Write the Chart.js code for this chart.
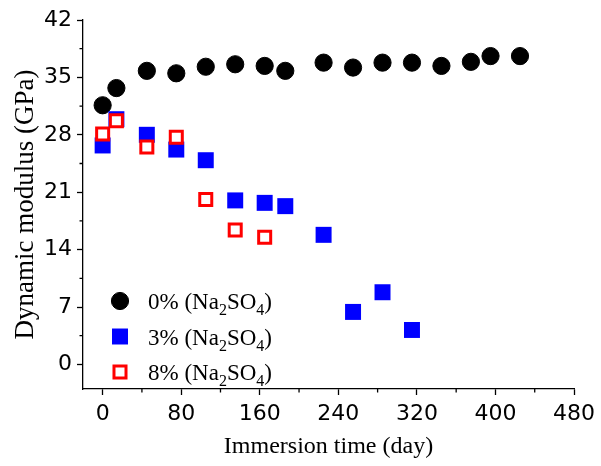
<!DOCTYPE html>
<html>
<head>
<meta charset="utf-8">
<title>Dynamic modulus</title>
<script src="https://cdn.jsdelivr.net/npm/chart.js@4.4.0/dist/chart.umd.min.js"></script>
<style>
    html, body { margin: 0; padding: 0; background: #fff; }
    #wrap { width: 601px; height: 466px; position: relative; }
</style>
</head>
<body>
<div id="wrap"><canvas id="modulusChart"></canvas></div>
<script>
// Immersion time (day) and dynamic modulus (GPa) for each Na2SO4 concentration
const days0 = [0, 14, 45, 75, 105, 135, 165, 186, 225, 255, 285, 315, 345, 375, 395, 425];
const modulus0 = [31.6, 33.7, 35.8, 35.5, 36.3, 36.6, 36.4, 35.8, 36.8, 36.2, 36.8, 36.8, 36.4, 36.9, 37.6, 37.6];

const days3 = [0, 14, 45, 75, 105, 135, 165, 186, 225, 255, 285, 315];
const modulus3 = [26.7, 29.9, 28.0, 26.2, 24.9, 20.0, 19.7, 19.3, 15.8, 6.4, 8.8, 4.2];

const days8 = [0, 14, 45, 75, 105, 135, 165];
const modulus8 = [28.1, 29.7, 26.5, 27.7, 20.1, 16.4, 15.5];

const seriesLabels = ['0%', '3%', '8%'];
const xTicks = [0, 80, 160, 240, 320, 400, 480];
const yTicks = [0, 7, 14, 21, 28, 35, 42];

const SERIF = '"Liberation Serif", "Times New Roman", serif';
const SANS = '"DejaVu Sans", Arial, sans-serif';

function toPoints(xs, ys) {
    return xs.map((x, i) => ({ x: x, y: ys[i] }));
}

// minor ticks halfway between the labelled ones
const minorTicks = {
    id: 'minorTicks',
    afterDraw(chart) {
        const { ctx, scales: { x, y } } = chart;
        ctx.save();
        ctx.strokeStyle = '#000';
        ctx.lineWidth = 1.3;
        ctx.beginPath();
        for (let i = 0; i < xTicks.length - 1; i++) {
            const px = x.getPixelForValue((xTicks[i] + xTicks[i + 1]) / 2);
            ctx.moveTo(px, y.bottom);
            ctx.lineTo(px, y.bottom + 3.5);
        }
        for (let i = 0; i < yTicks.length - 1; i++) {
            const py = y.getPixelForValue((yTicks[i] + yTicks[i + 1]) / 2);
            ctx.moveTo(x.left, py);
            ctx.lineTo(x.left - 3.5, py);
        }
        ctx.stroke();
        ctx.restore();
    }
};

// legend with chemical subscripts, lower-left inside the plot
const chemLegend = {
    id: 'chemLegend',
    afterDraw(chart) {
        const { ctx, chartArea } = chart;
        const x0 = chartArea.left + 37;
        const rowGap = 35.5;
        const firstRow = chartArea.bottom - 88;
        ctx.save();
        chart.data.datasets.forEach((ds, i) => {
            const cy = firstRow + i * rowGap;
            ctx.fillStyle = ds.pointBackgroundColor;
            ctx.strokeStyle = ds.pointBorderColor;
            ctx.lineWidth = ds.pointBorderWidth;
            ctx.beginPath();
            if (ds.pointStyle === 'circle') {
                ctx.arc(x0, cy, ds.pointRadius, 0, Math.PI * 2);
            } else {
                const h = Math.SQRT1_2 * ds.pointRadius;
                ctx.rect(x0 - h, cy - h, 2 * h, 2 * h);
            }
            ctx.fill();
            if (ds.pointBorderWidth > 0) ctx.stroke();

            // "x% (Na2SO4)" with lowered digits
            const parts = [[ds.label + ' (Na', false], ['2', true], ['SO', false], ['4', true], [')', false]];
            let tx = x0 + 28;
            const base = cy + 8;
            ctx.fillStyle = '#000';
            ctx.textBaseline = 'alphabetic';
            ctx.textAlign = 'left';
            parts.forEach(([t, sub]) => {
                ctx.font = sub ? '16px ' + SERIF : '23px ' + SERIF;
                ctx.fillText(t, tx, sub ? base + 6 : base);
                tx += ctx.measureText(t).width;
            });
        });
        ctx.restore();
    }
};

const axisCommon = {
    border: { display: true, color: '#000', width: 1.3 },
    grid: {
        display: true,
        drawOnChartArea: false,
        drawTicks: true,
        tickLength: 6,
        tickColor: '#000',
        tickWidth: 1.3
    }
};

new Chart(document.getElementById('modulusChart').getContext('2d'), {
    type: 'scatter',
    data: {
        datasets: [
            {
                label: seriesLabels[0],
                data: toPoints(days0, modulus0),
                pointStyle: 'circle',
                pointRadius: 8.6,
                pointBackgroundColor: '#000000',
                pointBorderColor: '#000000',
                pointBorderWidth: 1,
                order: 2
            },
            {
                label: seriesLabels[1],
                data: toPoints(days3, modulus3),
                pointStyle: 'rect',
                pointRadius: 11.3,
                pointBackgroundColor: '#0000ff',
                pointBorderColor: '#0000ff',
                pointBorderWidth: 0,
                order: 1
            },
            {
                label: seriesLabels[2],
                data: toPoints(days8, modulus8),
                pointStyle: 'rect',
                pointRadius: 8.5,
                pointBackgroundColor: '#ffffff',
                pointBorderColor: '#ff0000',
                pointBorderWidth: 3,
                order: 0
            }
        ]
    },
    options: {
        responsive: true,
        maintainAspectRatio: false,
        animation: false,
        events: [],
        layout: { padding: { top: 20, right: 21, bottom: 0, left: 0 } },
        plugins: {
            legend: { display: false },
            tooltip: { enabled: false }
        },
        scales: {
            x: {
                ...axisCommon,
                type: 'linear',
                min: -20,
                max: 480,
                afterBuildTicks: (s) => { s.ticks = xTicks.map(v => ({ value: v })); },
                afterFit: (s) => { s.height = 77; },
                ticks: {
                    color: '#000',
                    padding: 6,
                    maxRotation: 0,
                    autoSkip: false,
                    font: { family: SANS, size: 22 }
                },
                title: {
                    display: true,
                    text: 'Immersion time (day)',
                    color: '#000',
                    font: { family: SERIF, size: 24 },
                    padding: { top: 0, bottom: 5 }
                }
            },
            y: {
                ...axisCommon,
                type: 'linear',
                min: -3,
                max: 42,
                afterBuildTicks: (s) => { s.ticks = yTicks.map(v => ({ value: v })); },
                afterFit: (s) => { s.width = 83; },
                ticks: {
                    color: '#000',
                    padding: 5,
                    autoSkip: false,
                    font: { family: SANS, size: 22 }
                },
                title: {
                    display: true,
                    text: 'Dynamic modulus (GPa)',
                    color: '#000',
                    font: { family: SERIF, size: 27 },
                    padding: { top: 10, bottom: 0 }
                }
            }
        }
    },
    plugins: [minorTicks, chemLegend]
});
</script>
</body>
</html>
